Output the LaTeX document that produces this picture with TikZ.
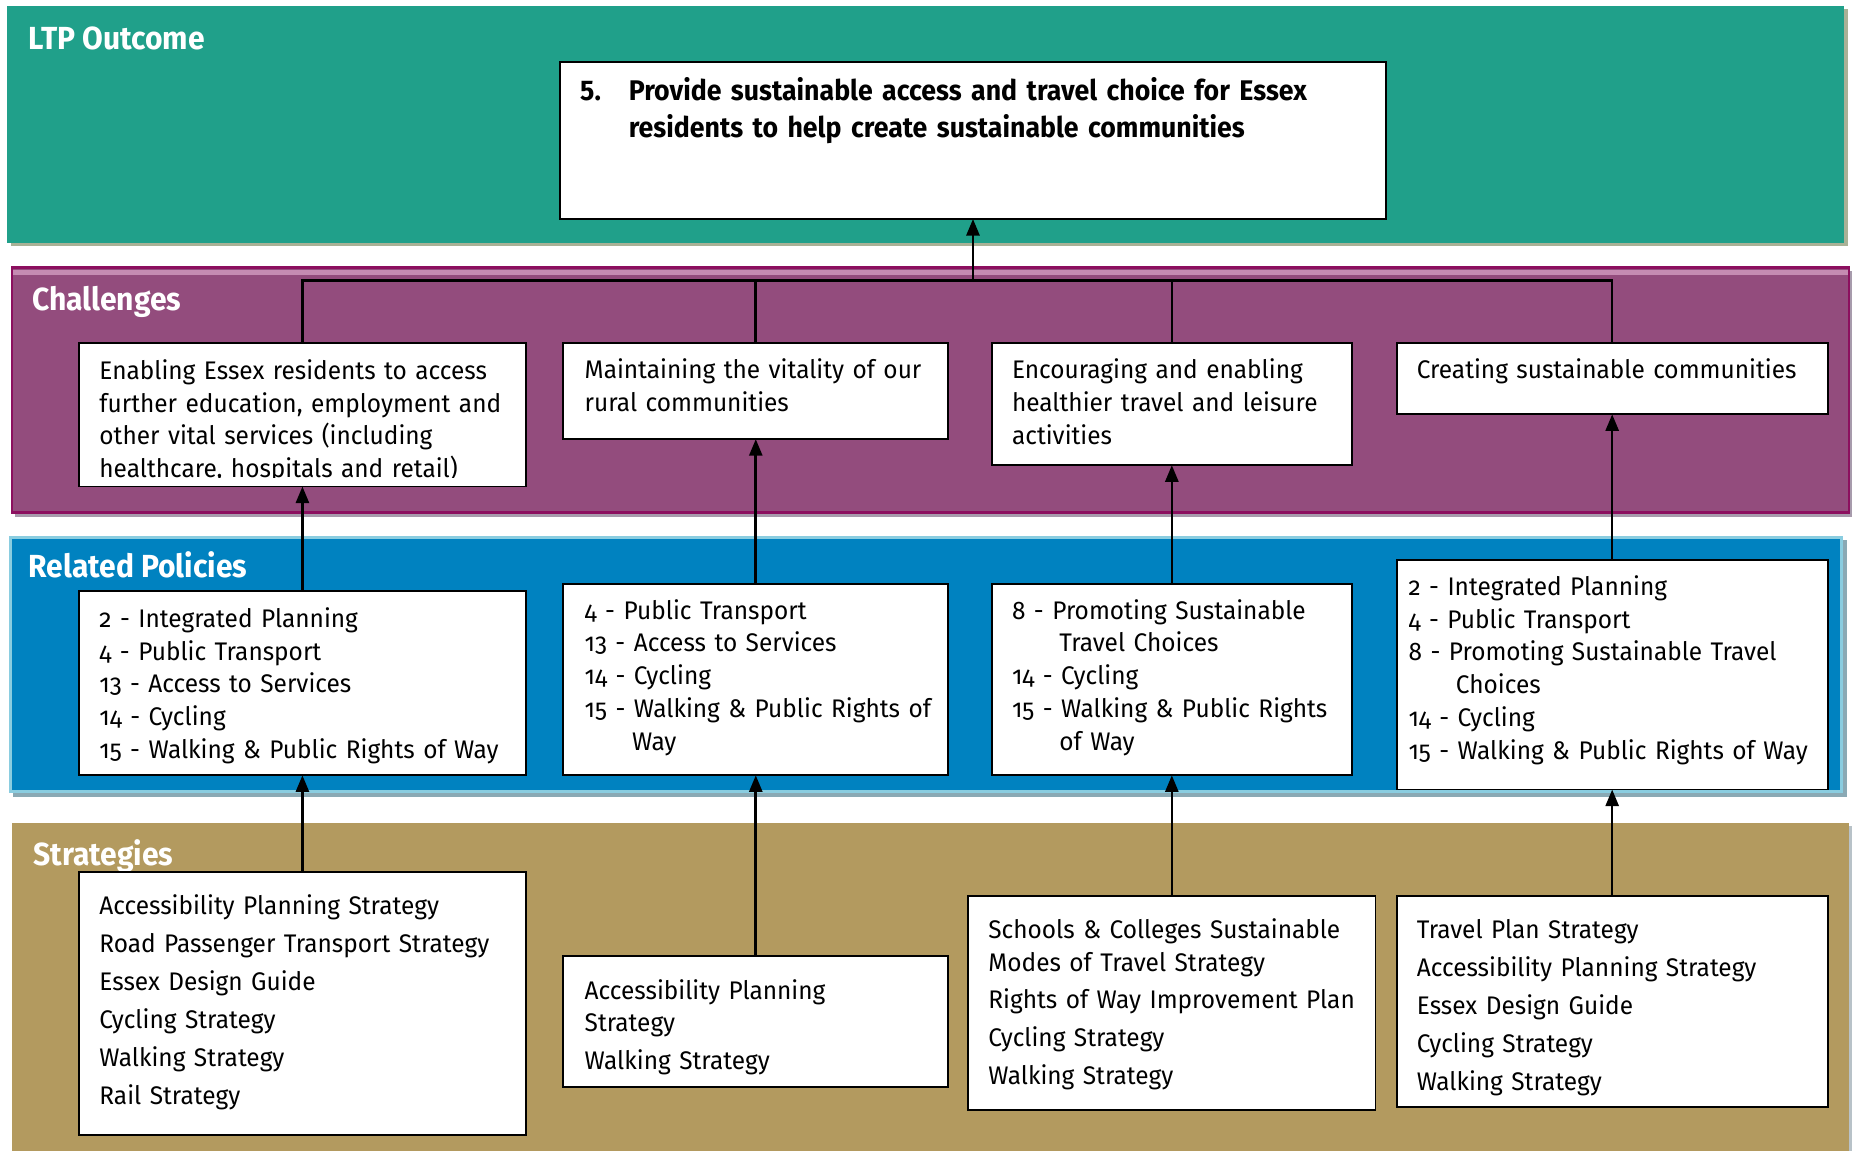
\documentclass[tikz,border=0pt]{standalone}
\usepackage{fontspec}
\setmainfont{Fira Sans}[Numbers=OldStyle]
\newfontfamily\bodyf{Fira Sans}[Numbers=OldStyle, FakeStretch=0.96]
\newfontfamily\headf{Fira Sans}[FakeStretch=0.94]
\usetikzlibrary{arrows.meta}
\definecolor{teal}{HTML}{20A08A}
\definecolor{tealsh}{HTML}{A9B196}
\definecolor{purp}{HTML}{934C7D}
\definecolor{purpbd}{HTML}{8C0F5F}
\definecolor{purplt}{HTML}{C58BB2}
\definecolor{purpsh}{HTML}{A79BAC}
\definecolor{blu}{HTML}{0082C0}
\definecolor{blubd}{HTML}{8ACDE0}
\definecolor{blush}{HTML}{8AA9B4}
\definecolor{tan}{HTML}{B39A5F}
\definecolor{tansh}{HTML}{B8C2C8}
\tikzset{
  box/.style={draw=black, line width=1.6pt, fill=white, inner sep=0pt, outer sep=0pt, anchor=north west},
  txt/.style={inner sep=0pt, outer sep=0pt, anchor=base west, text width=480pt, align=left,
    font=\bodyf\fontsize{21.5}{27.7}\selectfont},
  stxt/.style={txt, font=\bodyf\fontsize{21.5}{32}\selectfont},
  title/.style={inner sep=0pt, anchor=base west, text=white, font=\headf\bfseries\fontsize{27}{32}\selectfont},
  outf/.style={inner sep=0pt, anchor=base west, font=\headf\bfseries\fontsize{24}{31}\selectfont},
  conn/.style={line width=2.2pt, black},
  arr/.style={conn, -{Triangle[length=14pt,width=11pt]}},
}
\begin{document}
\begin{tikzpicture}[x=1pt,y=-1pt]
\useasboundingbox (0,0) rectangle (1568,972);
\fill[white] (0,0) rectangle (1568,972);
% ---- bands ----
% LTP outcome
\fill[tealsh] (9,8) rectangle (1561,208);
\fill[teal] (6,5) rectangle (1558,205);
% Challenges
\fill[purpsh] (13,229) rectangle (1565,437);
\fill[purp] (10,226) rectangle (1562,433);
\fill[purplt] (11,228) rectangle (1561,232);
\draw[purpbd, line width=2pt] (10,226) rectangle (1562,433);
% Related policies
\fill[blush] (11,456) rectangle (1560,673);
\fill[blu] (8,453) rectangle (1557,670);
\draw[blubd, line width=2.5pt] (9,454) rectangle (1556,669);
% Strategies
\fill[tansh] (13,698) rectangle (1565,972);
\fill[tan] (10,695) rectangle (1562,972);
% ---- titles ----
\node[title] (tl) at (24,42) {LTP Outcome};
\node[title] (tc) at (27,262) {Challenges};
\node[title] (tp) at (24,488) {Related Policies};
\node[title] (ts) at (28,731) {Strategies};
% ---- outcome ----
\node[box, minimum width=698pt, minimum height=133pt] (out) at (473,52) {};
\node[outf] (outn) at (490,85) {5.};
\node[outf, text width=640pt, align=left] (outt) at (531,85)
  {Provide sustainable access and travel choice for Essex\\residents to help create sustainable communities};
% ---- challenges ----
\node[box, minimum width=377pt, minimum height=121pt] (c1) at (67,290) {};
\begin{scope}
\clip (67,290) rectangle (444,403);
\node[txt] (c1t) at (84,320.5) {Enabling Essex residents to access\\further education, employment and\\other vital services (including\\healthcare, hospitals and retail)};
\end{scope}
\node[box, minimum width=325pt, minimum height=81pt] (c2) at (476,290) {};
\node[txt] (c2t) at (494,320) {Maintaining the vitality of our\\rural communities};
\node[box, minimum width=304pt, minimum height=103pt] (c3) at (838,290) {};
\node[txt] (c3t) at (855,320) {Encouraging and enabling\\healthier travel and leisure\\activities};
\node[box, minimum width=364pt, minimum height=60pt] (c4) at (1180,290) {};
\node[txt] (c4t) at (1197,320) {Creating sustainable communities};
% ---- policies ----
\node[box, minimum width=377pt, minimum height=156pt] (p1) at (67,499) {};
\node[txt] (p1t) at (84,530) {2 - Integrated Planning\\4 - Public Transport\\13 - Access to Services\\14 - Cycling\\15 - Walking \& Public Rights of Way};
\node[box, minimum width=325pt, minimum height=162pt] (p2) at (476,493) {};
\node[txt] (p2t) at (494,523) {4 - Public Transport\\13 - Access to Services\\14 - Cycling\\15 - Walking \& Public Rights of\\\hspace*{40pt}Way};
\node[box, minimum width=304pt, minimum height=162pt] (p3) at (838,493) {};
\node[txt] (p3t) at (855,523) {8 - Promoting Sustainable\\\hspace*{40pt}Travel Choices\\14 - Cycling\\15 - Walking \& Public Rights\\\hspace*{40pt}of Way};
\node[box, minimum width=364pt, minimum height=194pt] (p4) at (1180,473) {};
\node[txt] (p4t) at (1190,503) {2 - Integrated Planning\\4 - Public Transport\\8 - Promoting Sustainable Travel\\\hspace*{40pt}Choices\\14 - Cycling\\15 - Walking \& Public Rights of Way};
% ---- strategies ----
\node[box, minimum width=377pt, minimum height=222pt] (s1) at (67,737) {};
\node[stxt] (s1t) at (84,773) {Accessibility Planning Strategy\\Road Passenger Transport Strategy\\Essex Design Guide\\Cycling Strategy\\Walking Strategy\\Rail Strategy};
\node[box, minimum width=325pt, minimum height=110pt] (s2) at (476,808) {};
\node[txt] (s2t) at (494,844) {Accessibility Planning\\Strategy\\[4pt]Walking Strategy};
\node[box, minimum width=344pt, minimum height=181pt] (s3) at (818,757) {};
\node[txt] (s3t) at (835,793) {Schools \& Colleges Sustainable\\Modes of Travel Strategy\\[4pt]Rights of Way Improvement Plan\\[4pt]Cycling Strategy\\[4pt]Walking Strategy};
\node[box, minimum width=364pt, minimum height=178pt] (s4) at (1180,757) {};
\node[stxt] (s4t) at (1197,793) {Travel Plan Strategy\\Accessibility Planning Strategy\\Essex Design Guide\\Cycling Strategy\\Walking Strategy};
% ---- connectors ----
\coordinate (hub) at (822,237);
\draw[conn] (c1.north) |- (hub);
\draw[conn] (c4.north) |- (hub);
\draw[conn] (c2.north) -- (c2.north |- hub);
\draw[conn] (c3.north) -- (c3.north |- hub);
\draw[arr] (hub) -- (out.south);
\draw[arr] (p1.north) -- (c1.south);
\draw[arr] (p2.north) -- (c2.south);
\draw[arr] (p3.north) -- (c3.south);
\draw[arr] (p4.north) -- (c4.south);
\draw[arr] (s1.north) -- (p1.south);
\draw[arr] (s2.north) -- (p2.south);
\draw[arr] (s3.north) -- (p3.south);
\draw[arr] (s4.north) -- (p4.south);
\end{tikzpicture}
\end{document}
